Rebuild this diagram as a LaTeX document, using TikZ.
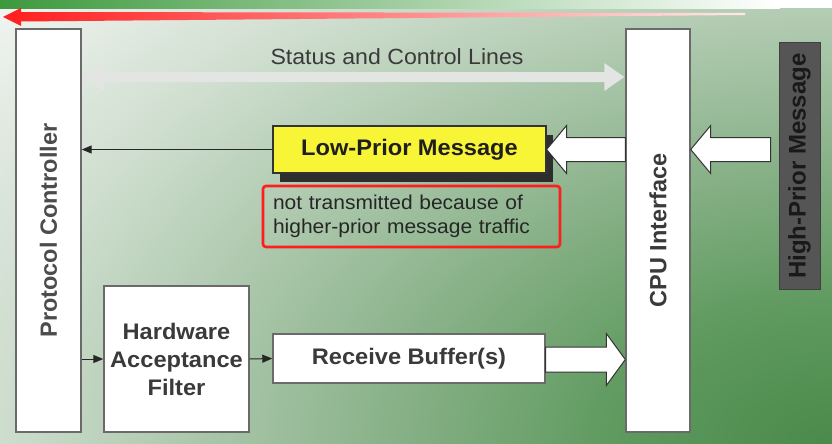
\documentclass[tikz,border=0pt]{standalone}
\usepackage{fontspec}
\setmainfont{Liberation Sans}[FakeStretch=1.05]
\newfontfamily\rotfont{Liberation Sans}
\usetikzlibrary{arrows.meta,calc}
\definecolor{txt}{HTML}{3A3A3A}
\definecolor{boxline}{HTML}{6A6A6A}
\definecolor{bgbase}{HTML}{F4F6F4}
\definecolor{gA}{HTML}{4A8A4A}
\definecolor{gB}{HTML}{5F9A5F}
\definecolor{gC}{HTML}{88B188}
\definecolor{gD}{HTML}{A8C5A8}
\definecolor{gE}{HTML}{CFDECF}
\definecolor{gF}{HTML}{F4F6F4}
\definecolor{bandA}{HTML}{3D993D}
\definecolor{bandB}{HTML}{8CC08C}
\definecolor{redA}{HTML}{FF1E1E}
\definecolor{statusc}{HTML}{E2E5E2}
\definecolor{yel}{HTML}{F8F436}
\definecolor{shadowc}{HTML}{2E2E2E}
\definecolor{hpfill}{HTML}{555555}
\pgfdeclareradialshading{bgglow}{\pgfpoint{0bp}{0bp}}{color(0bp)=(gA); color(5bp)=(gB); color(10bp)=(gC); color(14bp)=(gD); color(19bp)=(gE); color(25bp)=(gF); color(50bp)=(gF)}
\tikzset{
  blk/.style={draw=boxline, line width=1.4pt, fill=white, inner sep=0pt, text=txt},
  rotlabel/.style={font={\rotfont\bfseries\fontsize{23.5}{28}\selectfont}},
  conn/.style={draw=black!85, line width=1pt, -{Triangle[length=10pt,width=8pt]}},
  bigarrow/.style={fill=white, draw=black!80, line width=1pt, line join=miter},
}
\newcommand\hblockarrow[6]{%
  \path[#1] let \p1=(#2), \p2=(#3), \n1={ifthenelse(\x2>\x1,1,-1)} in
    (\x1,{\y1+#4}) -- ({\x2-\n1*#6},{\y1+#4}) -- ({\x2-\n1*#6},{\y1+#5}) -- (\x2,\y1)
    -- ({\x2-\n1*#6},{\y1-#5}) -- ({\x2-\n1*#6},{\y1-#4}) -- (\x1,{\y1-#4}) -- cycle;}
\begin{document}
\begin{tikzpicture}[x=1pt,y=-1pt]
\useasboundingbox (0,0) rectangle (832,444);
% background
\fill[bgbase] (0,0) rectangle (832,444);
\begin{scope}
  \clip (0,0) rectangle (832,444);
  \shade[shading=bgglow] (832,444) ellipse [x radius=1100, y radius=700];
\end{scope}
\shade[left color=bandA, middle color=bandB, right color=white] (0,0) rectangle (780,8.5);
\fill[white] (780,0) rectangle (832,8.5);
% red arrow
\shade[left color=redA, middle color=redA, right color=redA!10] (3,17) -- (21,8) -- (21,12) -- (745,13) -- (745,15) -- (21,21.5) -- (21,26) -- cycle;

% main boxes
\node[blk, minimum width=65pt, minimum height=403pt, rotlabel, text=black!70] (pc) at (48.5,230.5) {\rotatebox{90}{Protocol Controller}};
\node[blk, minimum width=64pt, minimum height=403pt, rotlabel] (cpu) at (658,230.5) {\rotatebox{90}{CPU Interface}};
\node[draw=black!75, fill=hpfill, line width=1pt, inner sep=0pt, minimum width=41pt, minimum height=246pt, text=black!90,
      font={\rotfont\bfseries\fontsize{24}{28}\selectfont}] (hp) at (799.5,166) {\rotatebox{90}{High-Prior Message}};

% status and control lines
\node[text=txt, font={\fontsize{22}{26}\selectfont}, inner sep=0pt] (st) at (397,57) {Status and Control Lines};
\coordinate (sly) at (0,77);
\coordinate (sL) at ($(pc.east |- sly)+(2,0)$);
\coordinate (sR) at ($(cpu.west |- sly)+(-1,0)$);
\fill[statusc] let \p1=(sL), \p2=(sR) in
  (\x1,\y1) -- (\x1+20pt,\y1+14pt) -- (\x1+20pt,\y1+5pt) -- (\x2-20pt,\y1+5pt) -- (\x2-20pt,\y1+14pt)
  -- (\x2,\y1) -- (\x2-20pt,\y1-14pt) -- (\x2-20pt,\y1-5pt) -- (\x1+20pt,\y1-5pt) -- (\x1+20pt,\y1-14pt) -- cycle;

% low-prior message
\node[fill=shadowc, inner sep=0pt, minimum width=273pt, minimum height=47pt] (lps) at (416.5,158.5) {};
\node[draw=black!80, fill=yel, line width=1.2pt, inner sep=0pt, minimum width=273pt, minimum height=47pt,
      text=black!88, font={\bfseries\fontsize{22.5}{26}\selectfont}] (lp) at (409.5,149.5) {Low-Prior Message};
\node[draw=redA, line width=2.6pt, rounded corners=3pt, text width=277pt, inner xsep=10pt, inner ysep=0pt,
      minimum height=61pt, align=left, text=black!85, font={\fontsize{20}{24}\selectfont}] (note) at (411.5,216.5)
      {not transmitted because of\\higher-prior message traffic};

% lower boxes
\node[blk, minimum width=145pt, minimum height=146pt, align=center, font={\bfseries\fontsize{22.5}{28}\selectfont}] (haf) at (176.5,359)
  {Hardware\\Acceptance\\Filter};
\node[blk, minimum width=272pt, minimum height=49pt, font={\bfseries\fontsize{22.5}{26}\selectfont}] (rb) at (409,358.5) {Receive Buffer(s)};

% thin connectors
\draw[conn] (lp.west) -- (lp.west -| pc.east);
\draw[conn] (haf.west -| pc.east) -- (haf.west);
\draw[conn] (haf.east) -- (rb.west);

% block arrows
\coordinate (t1) at (cpu.west |- lp.east);
\coordinate (t2) at ($(hp.west |- lp.east)+(-8,0)$);
\coordinate (t3) at ($(cpu.west |- rb.east)+(0,1)$);
\coordinate (t3s) at ($(rb.east)+(0,1)$);
\hblockarrow{bigarrow}{t1}{lp.east}{12pt}{24pt}{20pt}
\hblockarrow{bigarrow}{t2}{cpu.east}{12pt}{24pt}{20pt}
\hblockarrow{bigarrow}{t3s}{t3}{12.5pt}{26pt}{19pt}
\end{tikzpicture}
\end{document}
